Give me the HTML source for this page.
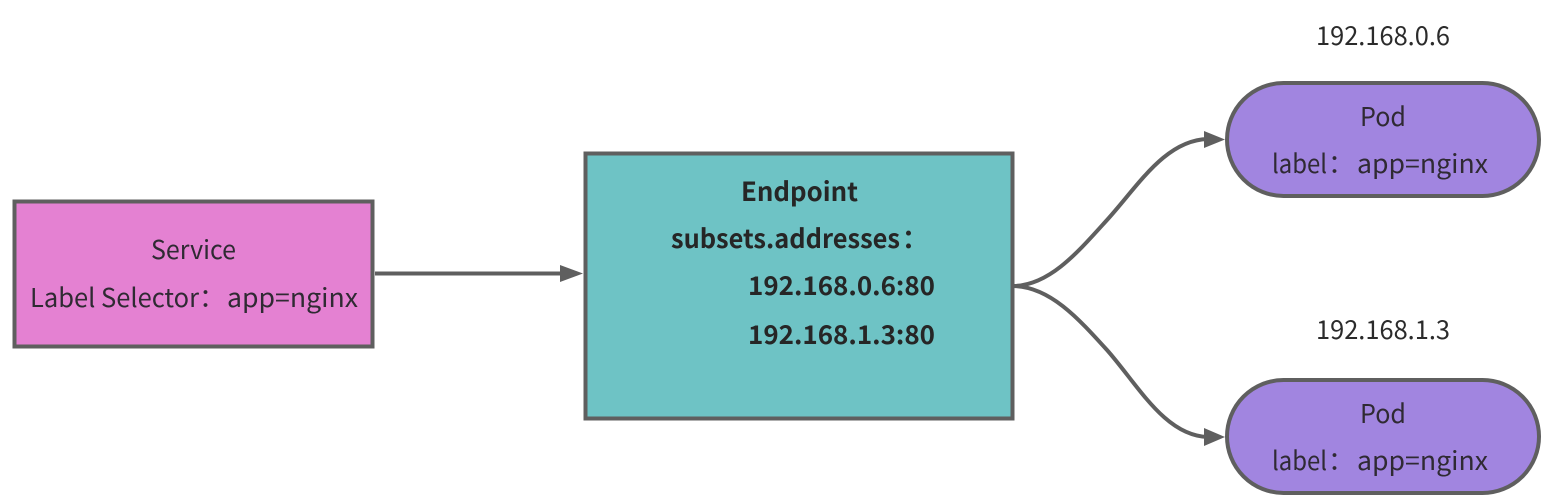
<!DOCTYPE html>
<html>
<head>
<meta charset="utf-8">
<style>
html,body{margin:0;padding:0;background:#fff;width:1557px;height:499px;overflow:hidden}
svg{display:block}
text{font-family:"Noto Sans CJK SC","Liberation Sans",sans-serif;font-size:26px;fill:#2f2a33;font-weight:400}
.b{font-weight:700;fill:#262626}
.k{fill:#2b2b2b}
</style>
</head>
<body>
<svg width="1557" height="499" viewBox="0 0 1557 499" xmlns="http://www.w3.org/2000/svg">
<rect x="14.5" y="201.5" width="358" height="145" fill="#e481d2" stroke="#5f5f5f" stroke-width="4"/>
<rect x="585.5" y="153.5" width="427" height="265" fill="#6ec3c5" stroke="#5f5f5f" stroke-width="4"/>
<rect x="1227" y="83" width="312" height="113" rx="56.5" ry="56.5" fill="#a185e0" stroke="#5f5f5f" stroke-width="4"/>
<rect x="1227" y="380" width="312" height="113" rx="56.5" ry="56.5" fill="#a185e0" stroke="#5f5f5f" stroke-width="4"/>

<path d="M375 273.5H562" fill="none" stroke="#5f5f5f" stroke-width="4"/>
<polygon points="583,273.5 560,265 560,282" fill="#5f5f5f"/>
<path d="M1014 286C1050 285 1078 252 1107 220C1138 186 1165 140 1208 139" fill="none" stroke="#5f5f5f" stroke-width="4"/>
<polygon points="1225,139.5 1204,131 1204,148" fill="#5f5f5f"/>
<path d="M1014 286C1050 287 1078 318 1107 350C1138 385 1165 436 1208 437" fill="none" stroke="#5f5f5f" stroke-width="4"/>
<polygon points="1225,437 1204,428 1204,446" fill="#5f5f5f"/>

<text x="151" y="259" textLength="85" lengthAdjust="spacingAndGlyphs">Service</text>
<text x="30" y="307" textLength="169" lengthAdjust="spacingAndGlyphs">Label Selector</text>
<text x="199" y="307">：</text>
<text x="227" y="307" textLength="131" lengthAdjust="spacingAndGlyphs">app=nginx</text>

<text class="b" x="741" y="201" textLength="117" lengthAdjust="spacingAndGlyphs">Endpoint</text>
<text class="b" x="671" y="248" textLength="229" lengthAdjust="spacingAndGlyphs">subsets.addresses</text>
<text class="b" x="902" y="248">：</text>
<text class="b" x="748" y="295" textLength="187" lengthAdjust="spacingAndGlyphs">192.168.0.6:80</text>
<text class="b" x="748" y="344" textLength="187" lengthAdjust="spacingAndGlyphs">192.168.1.3:80</text>

<text class="k" x="1316" y="45" textLength="134" lengthAdjust="spacingAndGlyphs">192.168.0.6</text>
<text class="k" x="1316" y="339" textLength="134" lengthAdjust="spacingAndGlyphs">192.168.1.3</text>

<text x="1360" y="126" textLength="46" lengthAdjust="spacingAndGlyphs">Pod</text>
<text x="1272" y="173" textLength="55" lengthAdjust="spacingAndGlyphs">label</text>
<text x="1328" y="173">：</text>
<text x="1357" y="173" textLength="131" lengthAdjust="spacingAndGlyphs">app=nginx</text>
<text x="1360" y="423" textLength="46" lengthAdjust="spacingAndGlyphs">Pod</text>
<text x="1272" y="470" textLength="55" lengthAdjust="spacingAndGlyphs">label</text>
<text x="1328" y="470">：</text>
<text x="1357" y="470" textLength="131" lengthAdjust="spacingAndGlyphs">app=nginx</text>
</svg>
</body>
</html>
